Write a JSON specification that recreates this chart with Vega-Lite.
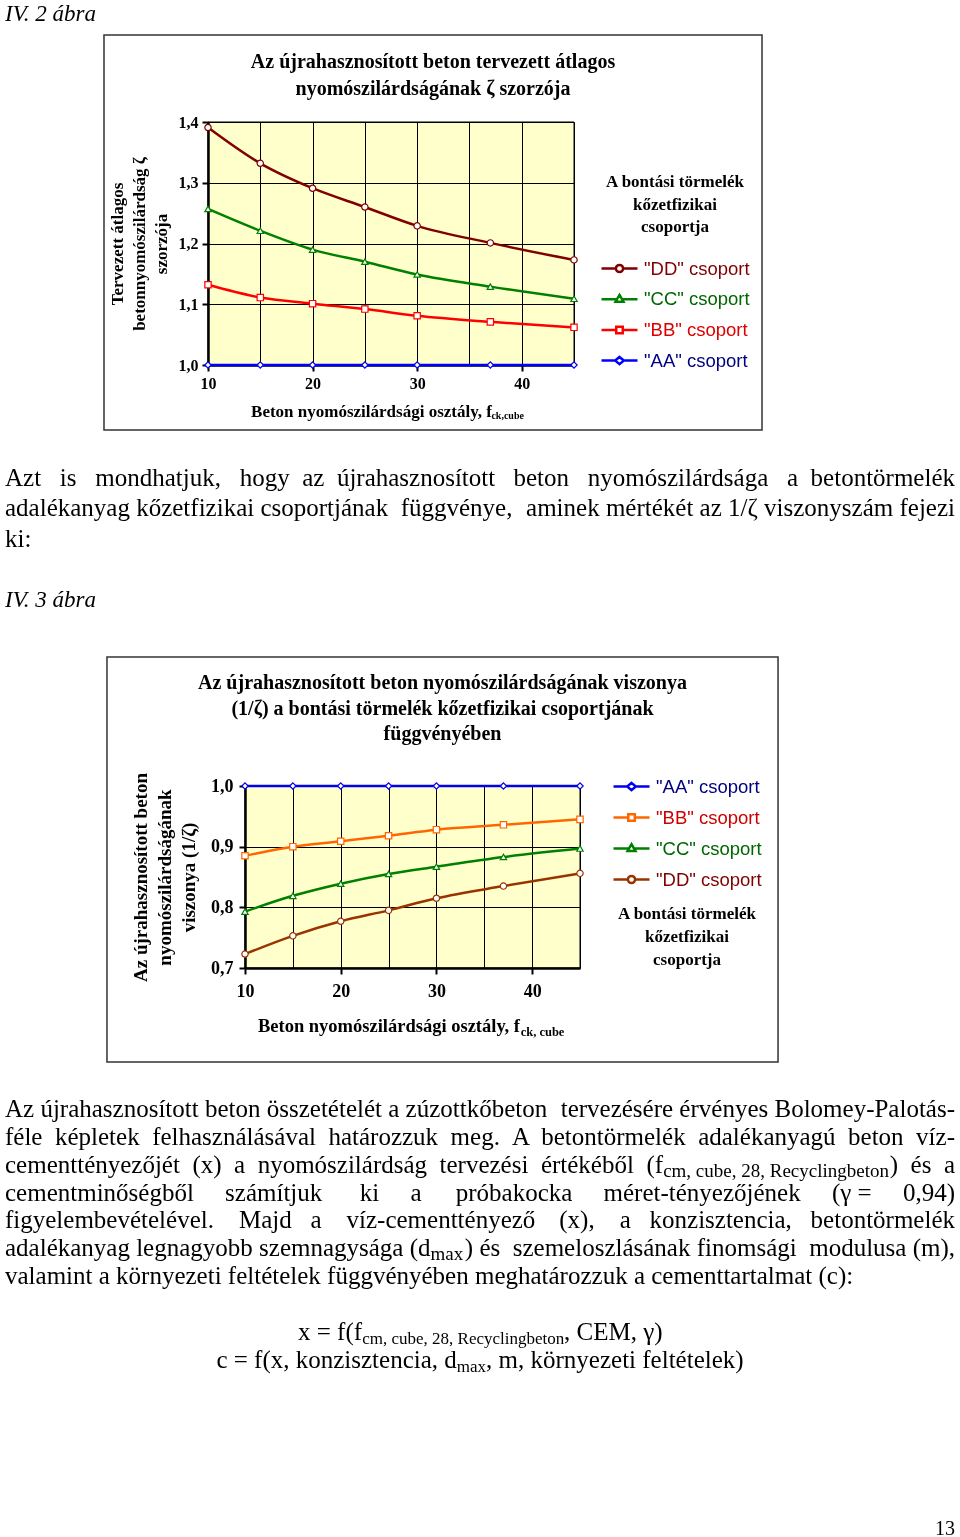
{
  "$schema": "https://vega.github.io/schema/vega-lite/v6.json",
  "background": "white",
  "padding": 0,
  "config": {"view": {"stroke": null}},
  "resolve": {"scale": {"color": "independent", "stroke": "independent"}, "legend": {"color": "independent", "stroke": "independent"}},
  "datasets": {
    "p1L": [
      {"row": 1, "text": "Azt \u00a0\u00a0is \u00a0\u00a0mondhatjuk, \u00a0\u00a0hogy \u00a0az \u00a0újrahasznosított"},
      {"row": 2, "text": "adalékanyag kőzetfizikai csoportjának \u00a0függvénye,"},
      {"row": 3, "text": "ki:"}
    ],
    "p1R": [
      {"row": 1, "text": "beton \u00a0\u00a0nyomószilárdsága \u00a0\u00a0a \u00a0betontörmelék"},
      {"row": 2, "text": "aminek mértékét az 1/ζ viszonyszám fejezi"}
    ],
    "p2L": [
      {"row": 1, "text": "Az újrahasznosított beton összetételét a zúzottkőbeton"},
      {"row": 2, "text": "féle \u00a0képletek \u00a0felhasználásával \u00a0határozzuk \u00a0meg."},
      {"row": 3, "text": "cementtényezőjét \u00a0(x) \u00a0a \u00a0nyomószilárdság \u00a0tervezési \u00a0értékéből \u00a0(f"},
      {"row": 4, "text": "cementminőségből \u00a0\u00a0\u00a0\u00a0számítjuk \u00a0\u00a0\u00a0\u00a0\u00a0ki \u00a0\u00a0\u00a0\u00a0a"},
      {"row": 5, "text": "figyelembevételével. \u00a0\u00a0\u00a0Majd \u00a0\u00a0a \u00a0\u00a0\u00a0víz-cementtényező"},
      {"row": 6, "text": "adalékanyag legnagyobb szemnagysága (d"},
      {"row": 7, "text": "valamint a környezeti feltételek függvényében meghatározzuk a cementtartalmat (c):"}
    ],
    "p2R": [
      {"row": 1, "text": "tervezésére érvényes Bolomey-Palotás-"},
      {"row": 2, "text": "A \u00a0betontörmelék \u00a0adalékanyagú \u00a0beton \u00a0víz-"},
      {"row": 3, "text": ") \u00a0és \u00a0a"},
      {"row": 4, "text": "próbakocka \u00a0\u00a0\u00a0\u00a0méret-tényezőjének \u00a0\u00a0\u00a0\u00a0(γ = \u00a0\u00a0\u00a0\u00a00,94)"},
      {"row": 5, "text": "(x), \u00a0\u00a0\u00a0a \u00a0\u00a0konzisztencia, \u00a0\u00a0betontörmelék"},
      {"row": 6, "text": ") és \u00a0szemeloszlásának finomsági \u00a0modulusa (m),"}
    ]
  },
  "spacing": 0,
  "bounds": "flush",
  "vconcat": [
    {
      "width": 960, "height": 122,
      "data": {"values": [{"row": 1, "text": "IV. 2 ábra"}]},
      "mark": {"type": "text", "align": "left", "baseline": "alphabetic", "font": "Liberation Serif", "fontStyle": "italic", "fontSize": 23, "color": "#000"},
      "encoding": {
        "x": {"datum": 0, "type": "quantitative", "scale": {"domain": [0, 1], "range": [5, 955]}, "axis": null},
        "y": {"field": "row", "type": "quantitative", "scale": {"domain": [0, 1], "range": [0, 20.5]}, "axis": null},
        "text": {"field": "text"}
      }
    },
    {
      "width": 960, "height": 243,
      "title": {"text": ["Az újrahasznosított beton tervezett átlagos", "nyomószilárdságának ζ szorzója"], "font": "Liberation Serif", "fontSize": 20, "fontWeight": "bold", "color": "#000", "lineHeight": 27, "offset": -65, "anchor": "middle", "frame": "group", "dx": -47},
      "data": {"values": [
        {"x": 10, "y": 1.391, "group": "DD"}, {"x": 15, "y": 1.332, "group": "DD"}, {"x": 20, "y": 1.291, "group": "DD"}, {"x": 25, "y": 1.26, "group": "DD"}, {"x": 30, "y": 1.229, "group": "DD"}, {"x": 37, "y": 1.201, "group": "DD"}, {"x": 45, "y": 1.173, "group": "DD"},
        {"x": 10, "y": 1.257, "group": "CC"}, {"x": 15, "y": 1.221, "group": "CC"}, {"x": 20, "y": 1.19, "group": "CC"}, {"x": 25, "y": 1.17, "group": "CC"}, {"x": 30, "y": 1.149, "group": "CC"}, {"x": 37, "y": 1.129, "group": "CC"}, {"x": 45, "y": 1.109, "group": "CC"},
        {"x": 10, "y": 1.132, "group": "BB"}, {"x": 15, "y": 1.111, "group": "BB"}, {"x": 20, "y": 1.101, "group": "BB"}, {"x": 25, "y": 1.092, "group": "BB"}, {"x": 30, "y": 1.081, "group": "BB"}, {"x": 37, "y": 1.071, "group": "BB"}, {"x": 45, "y": 1.062, "group": "BB"},
        {"x": 10, "y": 1.0, "group": "AA"}, {"x": 15, "y": 1.0, "group": "AA"}, {"x": 20, "y": 1.0, "group": "AA"}, {"x": 25, "y": 1.0, "group": "AA"}, {"x": 30, "y": 1.0, "group": "AA"}, {"x": 37, "y": 1.0, "group": "AA"}, {"x": 45, "y": 1.0, "group": "AA"}
      ]},
      "layer": [
        {
          "data": {"values": [{}]},
          "mark": {"type": "rect", "filled": false, "stroke": "#333", "strokeWidth": 1.5, "clip": false},
          "encoding": {
            "x": {"datum": 0.054, "type": "quantitative"}, "x2": {"datum": 62.98},
            "y": {"datum": 1.5432, "type": "quantitative"}, "y2": {"datum": 0.893}
          }
        },
        {
          "data": {"values": [{}]},
          "mark": {"type": "rect", "fill": "#FFFFCC", "stroke": "#000", "strokeWidth": 1, "blend": "multiply", "clip": false},
          "encoding": {
            "x": {"datum": 10, "type": "quantitative"}, "x2": {"datum": 45},
            "y": {"datum": 1.0, "type": "quantitative"}, "y2": {"datum": 1.4}
          }
        },
        {
          "mark": {"type": "line", "interpolate": "monotone", "strokeWidth": 2.5, "clip": false},
          "encoding": {
            "x": {"field": "x", "type": "quantitative", "scale": {"domain": [10, 45], "range": [208, 574], "nice": false, "zero": false},
              "axis": {"values": [10, 15, 20, 25, 30, 35, 40, 45], "grid": true, "gridColor": "#000", "gridWidth": 1, "gridOpacity": 1,
                "domainColor": "#000", "domainWidth": 2.5, "tickSize": 6, "tickWidth": 2,
                "tickColor": {"condition": {"test": "datum.value % 10 === 0", "value": "#000"}, "value": "transparent"},
                "labelExpr": "datum.value % 10 === 0 && datum.value < 45 ? datum.label : ''",
                "labelFont": "Liberation Serif", "labelFontWeight": "bold", "labelFontSize": 16, "labelColor": "#000", "labelPadding": 4, "labelFlush": false, "labelOverlap": false,
                "title": "Beton nyomószilárdsági osztály, f", "titleX": 371, "titleFont": "Liberation Serif", "titleFontWeight": "bold", "titleFontSize": 17, "titleColor": "#000", "titlePadding": 12}},
            "y": {"field": "y", "type": "quantitative", "scale": {"domain": [1.0, 1.4], "nice": false, "zero": false},
              "axis": {"values": [1.0, 1.1, 1.2, 1.3, 1.4], "offset": -208, "grid": true, "gridColor": "#000", "gridWidth": 1, "gridOpacity": 1,
                "domainColor": "#000", "domainWidth": 2.5, "tickSize": 6, "tickWidth": 2, "tickColor": "#000",
                "labelExpr": "replace(format(datum.value, '.1f'), '.', ',')",
                "labelFont": "Liberation Serif", "labelFontWeight": "bold", "labelFontSize": 16, "labelColor": "#000", "labelPadding": 4, "labelOverlap": false,
                "title": ["Tervezett átlagos", "betonnyomószilárdság ζ", "szorzója"], "titleFont": "Liberation Serif", "titleFontWeight": "bold", "titleFontSize": 17, "titleColor": "#000", "titleLineHeight": 22, "titlePadding": 8}},
            "color": {"field": "group", "type": "nominal",
              "scale": {"domain": ["DD", "CC", "BB", "AA"], "range": ["#800000", "#008000", "#FF0000", "#0000FF"]},
              "legend": {"orient": "none", "legendX": 600, "legendY": 52, "direction": "vertical",
                "title": ["A bontási törmelék", "kőzetfizikai", "csoportja"], "titleFont": "Liberation Serif", "titleFontWeight": "bold", "titleFontSize": 17, "titleColor": "#000", "titleLineHeight": 22.5, "titleAlign": "center", "titleAnchor": "middle", "titlePadding": 13, "titleLimit": 400,
                "labelFont": "Liberation Sans", "labelFontSize": 18.5, "labelOffset": 5, "labelLimit": 400,
                "labelExpr": "'\"' + datum.label + '\" csoport'",
                "labelColor": {"expr": "datum.value === 'DD' ? '#800000' : datum.value === 'CC' ? '#006600' : datum.value === 'BB' ? '#DD0000' : '#000080'"},
                "symbolType": {"expr": "datum.value === 'DD' ? 'M-1,0H-0.2M0.2,0H1M0.2,0A0.2,0.2,0,1,1,-0.2,0A0.2,0.2,0,1,1,0.2,0Z' : datum.value === 'CC' ? 'M-1,0H-0.14M0.14,0H1M0,-0.24L0.22,0.14L-0.22,0.14Z' : datum.value === 'BB' ? 'M-1,0H-0.18M0.18,0H1M-0.18,-0.18H0.18V0.18H-0.18Z' : 'M-1,0H-0.24M0.24,0H1M0,-0.2L0.24,0L0,0.2L-0.24,0Z'"},
                "symbolSize": 1296, "symbolStrokeWidth": 2.5, "rowPadding": 1.7}}
          }
        },
        {
          "mark": {"type": "point", "filled": true, "size": 40, "strokeWidth": 1.2, "opacity": 1, "clip": false},
          "encoding": {
            "x": {"field": "x", "type": "quantitative"},
            "y": {"field": "y", "type": "quantitative"},
            "fill": {"value": "white"},
            "stroke": {"field": "group", "type": "nominal", "scale": {"domain": ["DD", "CC", "BB", "AA"], "range": ["#800000", "#008000", "#FF0000", "#0000FF"]}, "legend": null},
            "shape": {"condition": [{"test": "datum.group === 'DD'", "value": "circle"}, {"test": "datum.group === 'CC'", "value": "triangle-up"}, {"test": "datum.group === 'BB'", "value": "square"}], "value": "diamond"}
          }
        },
        {
          "data": {"values": [{"sub": "ck,cube"}]},
          "mark": {"type": "text", "align": "left", "baseline": "middle", "font": "Liberation Serif", "fontWeight": "bold", "fontSize": 10, "color": "#000", "clip": false},
          "encoding": {
            "x": {"datum": 37.1, "type": "quantitative"},
            "y": {"datum": 0.916, "type": "quantitative"},
            "text": {"field": "sub"}
          }
        }
      ]
    },
    {
      "width": 960, "height": 421,
      "layer": [
        {
          "data": {"name": "p1L"},
          "mark": {"type": "text", "align": "left", "baseline": "alphabetic", "font": "Liberation Serif", "fontSize": 25, "color": "#000"},
          "encoding": {
            "x": {"datum": 0, "type": "quantitative", "scale": {"domain": [0, 1], "range": [5, 955]}, "axis": null},
            "y": {"field": "row", "type": "quantitative", "scale": {"domain": [1, 5], "range": [121, 242]}, "axis": null},
            "text": {"field": "text"}
          }
        },
        {
          "data": {"name": "p1R"},
          "mark": {"type": "text", "align": "right", "baseline": "alphabetic", "font": "Liberation Serif", "fontSize": 25, "color": "#000"},
          "encoding": {
            "x": {"datum": 1, "type": "quantitative", "axis": null},
            "y": {"field": "row", "type": "quantitative", "axis": null},
            "text": {"field": "text"}
          }
        },
        {
          "data": {"values": [{"row": 5, "text": "IV. 3 ábra"}]},
          "mark": {"type": "text", "align": "left", "baseline": "alphabetic", "font": "Liberation Serif", "fontStyle": "italic", "fontSize": 23, "color": "#000"},
          "encoding": {
            "x": {"datum": 0, "type": "quantitative", "axis": null},
            "y": {"field": "row", "type": "quantitative", "axis": null},
            "text": {"field": "text"}
          }
        }
      ]
    },
    {
      "width": 960, "height": 182,
      "title": {"text": ["Az újrahasznosított beton nyomószilárdságának viszonya", "(1/ζ) a bontási törmelék kőzetfizikai csoportjának", "függvényében"], "font": "Liberation Serif", "fontSize": 20, "fontWeight": "bold", "color": "#000", "lineHeight": 25.5, "offset": -88, "anchor": "middle", "frame": "group", "dx": -37.5},
      "data": {"values": [
        {"x": 10, "y": 1.0, "group": "AA"}, {"x": 15, "y": 1.0, "group": "AA"}, {"x": 20, "y": 1.0, "group": "AA"}, {"x": 25, "y": 1.0, "group": "AA"}, {"x": 30, "y": 1.0, "group": "AA"}, {"x": 37, "y": 1.0, "group": "AA"}, {"x": 45, "y": 1.0, "group": "AA"},
        {"x": 10, "y": 0.885, "group": "BB"}, {"x": 15, "y": 0.9, "group": "BB"}, {"x": 20, "y": 0.909, "group": "BB"}, {"x": 25, "y": 0.918, "group": "BB"}, {"x": 30, "y": 0.928, "group": "BB"}, {"x": 37, "y": 0.936, "group": "BB"}, {"x": 45, "y": 0.945, "group": "BB"},
        {"x": 10, "y": 0.793, "group": "CC"}, {"x": 15, "y": 0.819, "group": "CC"}, {"x": 20, "y": 0.839, "group": "CC"}, {"x": 25, "y": 0.855, "group": "CC"}, {"x": 30, "y": 0.867, "group": "CC"}, {"x": 37, "y": 0.883, "group": "CC"}, {"x": 45, "y": 0.897, "group": "CC"},
        {"x": 10, "y": 0.723, "group": "DD"}, {"x": 15, "y": 0.753, "group": "DD"}, {"x": 20, "y": 0.777, "group": "DD"}, {"x": 25, "y": 0.795, "group": "DD"}, {"x": 30, "y": 0.815, "group": "DD"}, {"x": 37, "y": 0.835, "group": "DD"}, {"x": 45, "y": 0.856, "group": "DD"}
      ]},
      "layer": [
        {
          "data": {"values": [{}]},
          "mark": {"type": "rect", "filled": false, "stroke": "#333", "strokeWidth": 1.5, "clip": false},
          "encoding": {
            "x": {"datum": -4.42, "type": "quantitative"}, "x2": {"datum": 65.69},
            "y": {"datum": 1.2126, "type": "quantitative"}, "y2": {"datum": 0.545}
          }
        },
        {
          "data": {"values": [{}]},
          "mark": {"type": "rect", "fill": "#FFFFCC", "stroke": "#000", "strokeWidth": 1, "blend": "multiply", "clip": false},
          "encoding": {
            "x": {"datum": 10, "type": "quantitative"}, "x2": {"datum": 45},
            "y": {"datum": 0.7, "type": "quantitative"}, "y2": {"datum": 1.0}
          }
        },
        {
          "mark": {"type": "line", "interpolate": "monotone", "strokeWidth": 2.5, "clip": false},
          "encoding": {
            "x": {"field": "x", "type": "quantitative", "scale": {"domain": [10, 45], "range": [245, 580], "nice": false, "zero": false},
              "axis": {"values": [10, 15, 20, 25, 30, 35, 40, 45], "grid": true, "gridColor": "#000", "gridWidth": 1, "gridOpacity": 1,
                "domainColor": "#000", "domainWidth": 2.5, "tickSize": 6, "tickWidth": 2,
                "tickColor": {"condition": {"test": "datum.value % 10 === 0", "value": "#000"}, "value": "transparent"},
                "labelExpr": "datum.value % 10 === 0 && datum.value < 45 ? datum.label : ''",
                "labelFont": "Liberation Serif", "labelFontWeight": "bold", "labelFontSize": 18, "labelColor": "#000", "labelPadding": 8, "labelFlush": false, "labelOverlap": false,
                "title": "Beton nyomószilárdsági osztály, f", "titleX": 388.5, "titleFont": "Liberation Serif", "titleFontWeight": "bold", "titleFontSize": 18.5, "titleColor": "#000", "titlePadding": 16}},
            "y": {"field": "y", "type": "quantitative", "scale": {"domain": [0.7, 1.0], "nice": false, "zero": false},
              "axis": {"values": [0.7, 0.75, 0.8, 0.85, 0.9, 0.95, 1.0], "offset": -245, "grid": true, "gridColor": "#000", "gridWidth": 1, "gridOpacity": 1,
                "domainColor": "#000", "domainWidth": 2.5, "tickSize": 6, "tickWidth": 2,
                "tickColor": {"condition": {"test": "abs(datum.value * 10 - round(datum.value * 10)) < 0.001", "value": "#000"}, "value": "transparent"},
                "labelExpr": "abs(datum.value * 10 - round(datum.value * 10)) < 0.001 ? replace(format(datum.value, '.1f'), '.', ',') : ''",
                "labelFont": "Liberation Serif", "labelFontWeight": "bold", "labelFontSize": 18, "labelColor": "#000", "labelPadding": 6, "labelOverlap": false,
                "title": ["Az újrahasznosított beton", "nyomószilárdságának", "viszonya (1/ζ)"], "titleFont": "Liberation Serif", "titleFontWeight": "bold", "titleFontSize": 19, "titleColor": "#000", "titleLineHeight": 24, "titlePadding": 12}},
            "color": {"field": "group", "type": "nominal",
              "scale": {"domain": ["AA", "BB", "CC", "DD"], "range": ["#0000EE", "#FF6600", "#008000", "#993300"]},
              "legend": {"orient": "none", "legendX": 612, "legendY": -19, "direction": "vertical", "titleOrient": "bottom",
                "title": ["A bontási törmelék", "kőzetfizikai", "csoportja"], "titleFont": "Liberation Serif", "titleFontWeight": "bold", "titleFontSize": 17, "titleColor": "#000", "titleLineHeight": 23, "titleAlign": "center", "titleAnchor": "middle", "titlePadding": 17, "titleLimit": 400,
                "labelFont": "Liberation Sans", "labelFontSize": 18.5, "labelOffset": 5, "labelLimit": 400,
                "labelExpr": "'\"' + datum.label + '\" csoport'",
                "labelColor": {"expr": "datum.value === 'DD' ? '#800000' : datum.value === 'CC' ? '#006600' : datum.value === 'BB' ? '#CC0000' : '#000080'"},
                "symbolType": {"expr": "datum.value === 'DD' ? 'M-1,0H-0.2M0.2,0H1M0.2,0A0.2,0.2,0,1,1,-0.2,0A0.2,0.2,0,1,1,0.2,0Z' : datum.value === 'CC' ? 'M-1,0H-0.14M0.14,0H1M0,-0.24L0.22,0.14L-0.22,0.14Z' : datum.value === 'BB' ? 'M-1,0H-0.18M0.18,0H1M-0.18,-0.18H0.18V0.18H-0.18Z' : 'M-1,0H-0.24M0.24,0H1M0,-0.2L0.24,0L0,0.2L-0.24,0Z'"},
                "symbolSize": 1296, "symbolStrokeWidth": 2.5, "rowPadding": 2}}
          }
        },
        {
          "mark": {"type": "point", "filled": true, "size": 40, "strokeWidth": 1.2, "opacity": 1, "clip": false},
          "encoding": {
            "x": {"field": "x", "type": "quantitative"},
            "y": {"field": "y", "type": "quantitative"},
            "fill": {"value": "white"},
            "stroke": {"field": "group", "type": "nominal", "scale": {"domain": ["AA", "BB", "CC", "DD"], "range": ["#0000EE", "#FF6600", "#008000", "#993300"]}, "legend": null},
            "shape": {"condition": [{"test": "datum.group === 'DD'", "value": "circle"}, {"test": "datum.group === 'CC'", "value": "triangle-up"}, {"test": "datum.group === 'BB'", "value": "square"}], "value": "diamond"}
          }
        },
        {
          "data": {"values": [{"sub": "ck, cube"}]},
          "mark": {"type": "text", "align": "left", "baseline": "middle", "font": "Liberation Serif", "fontWeight": "bold", "fontSize": 12.5, "color": "#000", "clip": false},
          "encoding": {
            "x": {"datum": 38.8, "type": "quantitative"},
            "y": {"datum": 0.5945, "type": "quantitative"},
            "text": {"field": "sub"}
          }
        }
      ]
    },
    {
      "width": 960, "height": 569,
      "layer": [
        {
          "data": {"name": "p2L"},
          "mark": {"type": "text", "align": "left", "baseline": "alphabetic", "font": "Liberation Serif", "fontSize": 25, "color": "#000"},
          "encoding": {
            "x": {"datum": 0, "type": "quantitative", "scale": {"domain": [0, 1], "range": [5, 955]}, "axis": null},
            "y": {"field": "row", "type": "quantitative", "scale": {"domain": [1, 16], "range": [121, 567]}, "axis": null},
            "text": {"field": "text"}
          }
        },
        {
          "data": {"name": "p2R"},
          "mark": {"type": "text", "align": "right", "baseline": "alphabetic", "font": "Liberation Serif", "fontSize": 25, "color": "#000"},
          "encoding": {
            "x": {"datum": 1, "type": "quantitative", "axis": null},
            "y": {"field": "row", "type": "quantitative", "axis": null},
            "text": {"field": "text"}
          }
        },
        {
          "data": {"values": [{"row": 3, "text": "cm, cube, 28, Recyclingbeton"}]},
          "mark": {"type": "text", "align": "left", "baseline": "alphabetic", "font": "Liberation Serif", "fontSize": 19, "dy": 4, "color": "#000"},
          "encoding": {"x": {"datum": 0.6928, "type": "quantitative", "axis": null}, "y": {"field": "row", "type": "quantitative", "axis": null}, "text": {"field": "text"}}
        },
        {
          "data": {"values": [{"row": 6, "text": "max"}]},
          "mark": {"type": "text", "align": "left", "baseline": "alphabetic", "font": "Liberation Serif", "fontSize": 19, "dy": 4, "color": "#000"},
          "encoding": {"x": {"datum": 0.4479, "type": "quantitative", "axis": null}, "y": {"field": "row", "type": "quantitative", "axis": null}, "text": {"field": "text"}}
        },
        {
          "data": {"values": [{"row": 9, "text": "x = f(f"}]},
          "mark": {"type": "text", "align": "left", "baseline": "alphabetic", "font": "Liberation Serif", "fontSize": 25, "color": "#000"},
          "encoding": {"x": {"datum": 0.3084, "type": "quantitative", "axis": null}, "y": {"field": "row", "type": "quantitative", "axis": null}, "text": {"field": "text"}}
        },
        {
          "data": {"values": [{"row": 9, "text": "cm, cube, 28, Recyclingbeton"}]},
          "mark": {"type": "text", "align": "left", "baseline": "alphabetic", "font": "Liberation Serif", "fontSize": 17, "dy": 4, "color": "#000"},
          "encoding": {"x": {"datum": 0.376, "type": "quantitative", "axis": null}, "y": {"field": "row", "type": "quantitative", "axis": null}, "text": {"field": "text"}}
        },
        {
          "data": {"values": [{"row": 9, "text": ", CEM, γ)"}]},
          "mark": {"type": "text", "align": "left", "baseline": "alphabetic", "font": "Liberation Serif", "fontSize": 25, "color": "#000"},
          "encoding": {"x": {"datum": 0.5884, "type": "quantitative", "axis": null}, "y": {"field": "row", "type": "quantitative", "axis": null}, "text": {"field": "text"}}
        },
        {
          "data": {"values": [{"row": 10, "text": "c = f(x, konzisztencia, d"}]},
          "mark": {"type": "text", "align": "left", "baseline": "alphabetic", "font": "Liberation Serif", "fontSize": 25, "color": "#000"},
          "encoding": {"x": {"datum": 0.2225, "type": "quantitative", "axis": null}, "y": {"field": "row", "type": "quantitative", "axis": null}, "text": {"field": "text"}}
        },
        {
          "data": {"values": [{"row": 10, "text": "max"}]},
          "mark": {"type": "text", "align": "left", "baseline": "alphabetic", "font": "Liberation Serif", "fontSize": 17, "dy": 4, "color": "#000"},
          "encoding": {"x": {"datum": 0.4756, "type": "quantitative", "axis": null}, "y": {"field": "row", "type": "quantitative", "axis": null}, "text": {"field": "text"}}
        },
        {
          "data": {"values": [{"row": 10, "text": ", m, környezeti feltételek)"}]},
          "mark": {"type": "text", "align": "left", "baseline": "alphabetic", "font": "Liberation Serif", "fontSize": 25, "color": "#000"},
          "encoding": {"x": {"datum": 0.5064, "type": "quantitative", "axis": null}, "y": {"field": "row", "type": "quantitative", "axis": null}, "text": {"field": "text"}}
        },
        {
          "data": {"values": [{"row": 16, "text": "13"}]},
          "mark": {"type": "text", "align": "right", "baseline": "alphabetic", "font": "Liberation Serif", "fontSize": 20, "color": "#000"},
          "encoding": {"x": {"datum": 1, "type": "quantitative", "axis": null}, "y": {"field": "row", "type": "quantitative", "axis": null}, "text": {"field": "text"}}
        }
      ]
    }
  ]
}
